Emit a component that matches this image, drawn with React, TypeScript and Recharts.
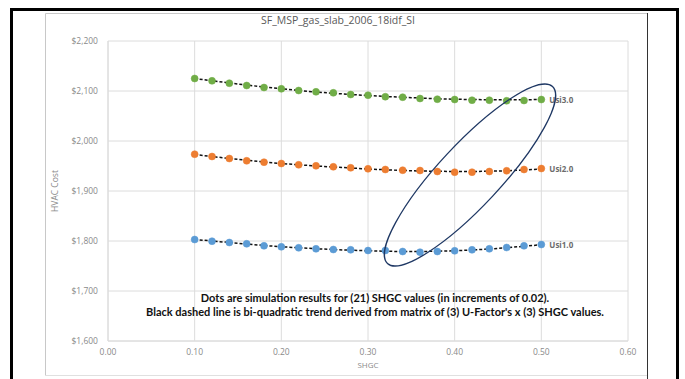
import { ComposedChart, Line, XAxis, YAxis, CartesianGrid } from 'recharts';

const SHGC = [0.1, 0.12, 0.14, 0.16, 0.18, 0.2, 0.22, 0.24, 0.26, 0.28, 0.3, 0.32, 0.34, 0.36, 0.38, 0.4, 0.42, 0.44, 0.46, 0.48, 0.5];

// simulation dots
const USI1_SIM = [1803, 1799.6, 1797, 1794.4, 1790.4, 1788.4, 1786.4, 1784.4, 1783, 1782.4, 1781, 1781, 1779, 1777.6, 1779, 1780.4, 1782.4, 1784.4, 1787, 1790.4, 1793];
const USI2_SIM = [1973.6, 1969, 1965, 1960.4, 1957.6, 1955, 1952.4, 1950.4, 1948.4, 1946.4, 1944.4, 1943, 1941.6, 1941, 1939, 1937.6, 1937.6, 1939, 1940.4, 1943, 1945];
const USI3_SIM = [2125, 2120.4, 2115.6, 2111, 2107, 2104.4, 2101, 2098.4, 2096.4, 2093, 2091.6, 2088.6, 2087.6, 2085, 2083.6, 2083, 2081.6, 2081.6, 2080.4, 2081, 2083];

// black dashed trend lines
const USI1_TREND = [1803, 1800, 1797, 1794, 1791, 1788.5, 1786.5, 1784.5, 1783, 1781.5, 1780.5, 1779.5, 1779, 1779, 1779.5, 1780.5, 1782, 1784, 1786.5, 1789.5, 1792.5];
const USI2_TREND = [1973, 1969, 1965, 1961.5, 1958, 1955, 1952.5, 1950, 1948, 1946, 1944, 1942.5, 1941, 1940, 1939.5, 1939, 1939, 1939.5, 1940.5, 1942, 1944];
const USI3_TREND = [2125, 2120.5, 2116, 2112, 2108, 2104.5, 2101, 2098, 2095.5, 2093, 2091, 2089, 2087.5, 2086, 2084.5, 2083.5, 2083, 2082.5, 2082.5, 2082.5, 2083];

const SERIES_NAMES = ['Usi1.0', 'Usi2.0', 'Usi3.0'];
const X_TICKS = [0, 0.1, 0.2, 0.3, 0.4, 0.5, 0.6];
const Y_TICKS = [1600, 1700, 1800, 1900, 2000, 2100, 2200];

const data = SHGC.map((s, i) => ({
  shgc: s,
  usi1: USI1_SIM[i],
  usi2: USI2_SIM[i],
  usi3: USI3_SIM[i],
  t1: USI1_TREND[i],
  t2: USI2_TREND[i],
  t3: USI3_TREND[i],
}));

const FONT = '"Open Sans", "Noto Sans", sans-serif';
const TICK = { fontSize: 8.5, fill: '#8a8a8a', fontFamily: FONT };

const endLabel = (name: string) => (p: any) => {
  if (p.index !== SHGC.length - 1) return null;
  return (
    <text x={p.x + 8} y={p.y + 3} fontSize={8} fontWeight="bold" fill="#6b6b6b" fontFamily={FONT}>
      {name}
    </text>
  );
};

const dot = (color: string) => ({ r: 3.5, fill: color, stroke: color, strokeWidth: 0.5 });

export default function App() {
  return (
    <div style={{ position: 'absolute', left: 0, top: 0, width: 685, height: 379, background: '#fff', fontFamily: FONT }}>
      <ComposedChart width={685} height={379} data={data} margin={{ top: 41, right: 57, left: 48, bottom: 13 }}>
        <CartesianGrid stroke="#dcdcdc" strokeWidth={1} />
        <XAxis
          dataKey="shgc"
          type="number"
          domain={[0, 0.6]}
          ticks={X_TICKS}
          tickFormatter={(v: number) => v.toFixed(2)}
          tick={TICK}
          tickLine={false}
          axisLine={{ stroke: '#dcdcdc' }}
          height={25}
        />
        <YAxis
          type="number"
          domain={[1600, 2200]}
          ticks={Y_TICKS}
          tickFormatter={(v: number) => '$' + v.toLocaleString('en-US')}
          tick={TICK}
          tickLine={false}
          axisLine={{ stroke: '#dcdcdc' }}
          tickMargin={4}
          width={60}
        />
        <Line dataKey="usi1" stroke="none" dot={dot('#5b9bd5')} activeDot={false} isAnimationActive={false} />
        <Line dataKey="usi2" stroke="none" dot={dot('#ed7d31')} activeDot={false} isAnimationActive={false} />
        <Line dataKey="usi3" stroke="none" dot={dot('#70ad47')} activeDot={false} isAnimationActive={false} />
        <Line dataKey="t1" stroke="#111" strokeWidth={1.5} strokeDasharray="3 2" dot={false} activeDot={false} isAnimationActive={false} label={endLabel(SERIES_NAMES[0])} />
        <Line dataKey="t2" stroke="#111" strokeWidth={1.5} strokeDasharray="3 2" dot={false} activeDot={false} isAnimationActive={false} label={endLabel(SERIES_NAMES[1])} />
        <Line dataKey="t3" stroke="#111" strokeWidth={1.5} strokeDasharray="3 2" dot={false} activeDot={false} isAnimationActive={false} label={endLabel(SERIES_NAMES[2])} />
      </ComposedChart>
      <svg width={685} height={379} style={{ position: 'absolute', left: 0, top: 0, pointerEvents: 'none' }}>
        <rect x={11.5} y={9.5} width={666} height={380} fill="none" stroke="#000" strokeWidth={3} />
        <path d="M45.5,375 L45.5,13.5 L647.5,13.5" fill="none" stroke="#c8c8c8" strokeWidth={1} />
        <line x1={647.5} y1={13} x2={647.5} y2={379} stroke="#333" strokeWidth={1} />
        <line x1={45} y1={375.5} x2={647} y2={375.5} stroke="#e0e0e0" strokeWidth={1} />
        <text x={338} y={24} textAnchor="middle" fontSize={10.5} fill="#595959" fontFamily={FONT}>
          SF_MSP_gas_slab_2006_18idf_SI
        </text>
        <text x={0} y={0} transform="translate(58,191) rotate(-90)" textAnchor="middle" fontSize={8.5} fill="#8a8a8a" fontFamily={FONT}>
          HVAC Cost
        </text>
        <text x={368} y={368} textAnchor="middle" fontSize={8} fill="#8a8a8a" fontFamily={FONT}>
          SHGC
        </text>
        <text x={375} y={302} textAnchor="middle" fontSize={11} fontWeight="bold" fill="#111" fontFamily="Lato, sans-serif">
          Dots are simulation results for (21) SHGC values (in increments of 0.02).
        </text>
        <text x={375} y={316} textAnchor="middle" fontSize={11} fontWeight="bold" fill="#111" fontFamily="Lato, sans-serif">
          Black dashed line is bi-quadratic trend derived from matrix of (3) U-Factor's x (3) SHGC values.
        </text>
        <ellipse cx={470} cy={175} rx={121} ry={31} transform="rotate(-47 470 175)" fill="none" stroke="#1f3864" strokeWidth={1.3} />
      </svg>
    </div>
  );
}
